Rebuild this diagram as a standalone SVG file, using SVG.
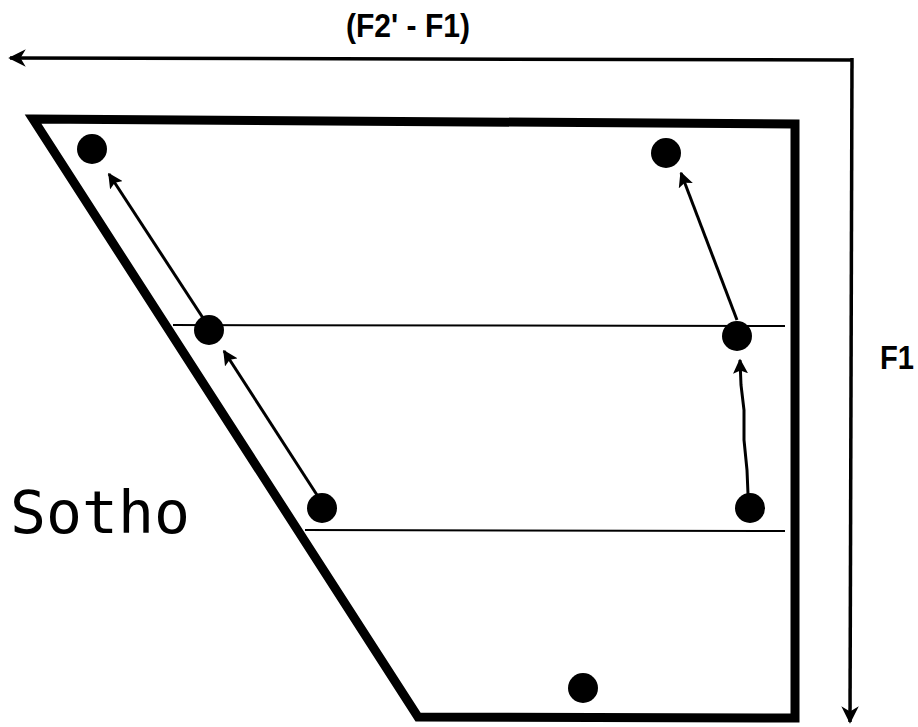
<svg xmlns="http://www.w3.org/2000/svg" width="918" height="727" viewBox="0 0 918 727">
<style>
.frame{fill:none;stroke:#000;stroke-width:9;stroke-linejoin:miter}
.thin{fill:none;stroke:#000;stroke-width:2}
.axis{fill:none;stroke:#000;stroke-width:3.5}
.move{fill:none;stroke:#000;stroke-width:3}
.dot{fill:#000}
.lbl{font-family:"Liberation Sans",Arial,sans-serif;font-weight:bold;fill:#000}
.big{font-family:"DejaVu Sans Mono","Liberation Mono",monospace;fill:#000}
</style>
<defs>
<marker id="ah" viewBox="0 0 10 10" refX="9" refY="5" markerWidth="5" markerHeight="5" orient="auto" markerUnits="strokeWidth">
<path d="M0,0 L10,5 L0,10 L2,5 z" fill="#000"/>
</marker>
<marker id="ax" viewBox="0 0 10 10" refX="9" refY="5" markerWidth="5" markerHeight="5" orient="auto" markerUnits="strokeWidth">
<path d="M0,0 L10,5 L0,10 L3,5 z" fill="#000"/>
</marker>
</defs>
<rect width="918" height="727" fill="#fff"/>
<text class="lbl" x="408" y="37" font-size="33" text-anchor="middle" textLength="124" lengthAdjust="spacingAndGlyphs">(F2' - F1)</text>
<text class="lbl" x="880" y="369" font-size="33" textLength="34" lengthAdjust="spacingAndGlyphs">F1</text>
<text class="big" x="10" y="533" font-size="58" textLength="180" lengthAdjust="spacingAndGlyphs">Sotho</text>
<g id="chart">
<path class="frame" d="M33,119 L795,124 L795,718 L418,717 Z"/>
<line class="thin" x1="173" y1="325" x2="785" y2="326"/>
<line class="thin" x1="305" y1="530" x2="785" y2="531"/>
</g>
<g id="connectors">
<polyline class="axis" points="852,60 10,58" marker-end="url(#ax)"/>
<polyline class="axis" points="852,58 850,722" marker-end="url(#ax)"/>
<line class="move" x1="317" y1="495" x2="224" y2="351" marker-end="url(#ah)"/>
<line class="move" x1="203" y1="318" x2="109" y2="174" marker-end="url(#ah)"/>
<line class="move" x1="737" y1="320" x2="681" y2="173" marker-end="url(#ah)"/>
<polyline class="move" points="748,494 747,470 744,440 744,410 741,385 740,360" marker-end="url(#ah)"/>
</g>
<g id="dots">
<circle class="dot" cx="92" cy="149" r="15"/>
<circle class="dot" cx="666" cy="153" r="15"/>
<circle class="dot" cx="209" cy="330" r="15"/>
<circle class="dot" cx="737" cy="336" r="15"/>
<circle class="dot" cx="322" cy="508" r="15"/>
<circle class="dot" cx="750" cy="508" r="15"/>
<circle class="dot" cx="583" cy="688" r="15"/>
</g>
</svg>
